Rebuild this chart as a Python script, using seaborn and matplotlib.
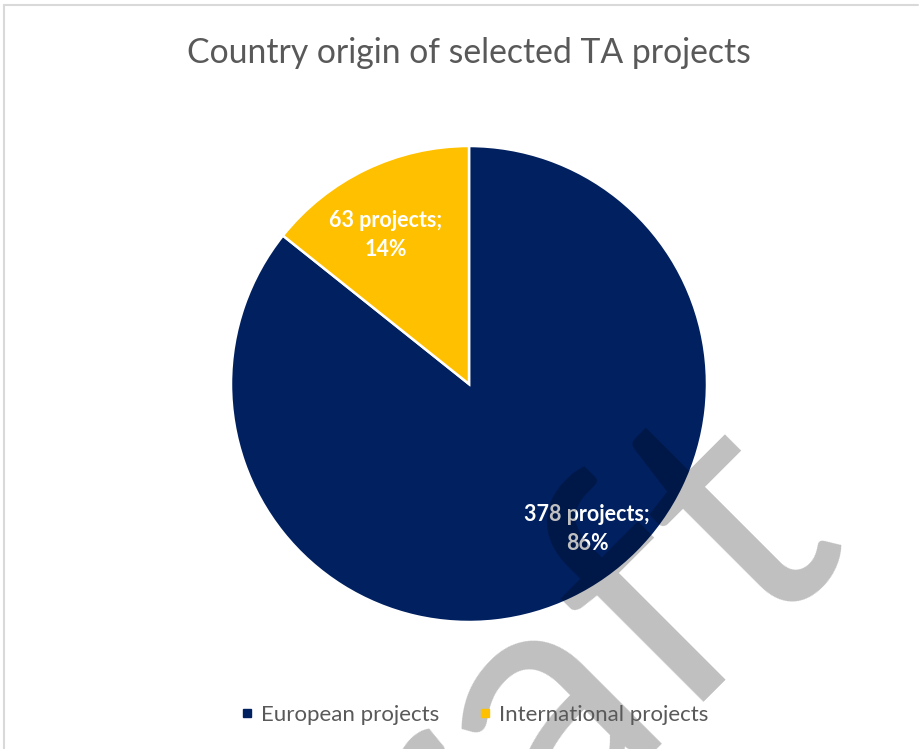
import matplotlib
matplotlib.use("Agg")
import matplotlib.pyplot as plt
from matplotlib.lines import Line2D
import seaborn as sns

# Data
categories = ["European projects", "International projects"]
project_counts = [378, 63]
colors = ["#002060", "#FFC000"]
title = "Country origin of selected TA projects"

sns.set_theme(style="white")
plt.rcParams["font.family"] = ["Lato", "DejaVu Sans"]

W, H = 919, 749
fig = plt.figure(figsize=(W / 100, H / 100), dpi=100)
fig.patch.set_facecolor("white")

# Chart frame (top and left edges)
frame_color = "#D9D9D9"
fig.add_artist(Line2D([4 / W, 918 / W], [1 - 5 / H, 1 - 5 / H], color=frame_color, lw=1.5,
                      transform=fig.transFigure))
fig.add_artist(Line2D([4 / W, 4 / W], [1 - 5 / H, 0], color=frame_color, lw=1.5,
                      transform=fig.transFigure))

# Pie axes
cx, cy, r = 469, 384, 238
ax = fig.add_axes([(cx - r) / W, (H - cy - r) / H, 2 * r / W, 2 * r / H])
wedges, _ = ax.pie(project_counts, colors=colors, startangle=90, counterclock=False,
                   radius=1.0, wedgeprops=dict(edgecolor="white", linewidth=1.8))
ax.set_xlim(-1, 1)
ax.set_ylim(-1, 1)
ax.set_aspect("equal")
ax.axis("off")

# Data labels
total = sum(project_counts)
label_pos = [(0.496, -0.609), (-0.349, 0.626)]
for n, (lx, ly) in zip(project_counts, label_pos):
    ax.text(lx, ly, f"{n} projects;\n{round(100 * n / total)}%", ha="center", va="center",
            color="white", fontsize=15.5, fontweight="bold", linespacing=1.5)

# Title
fig.text(469 / W, 1 - 63 / H, title, ha="center", va="baseline", color="#595959",
         fontsize=24.3)

# Legend
handles = [Line2D([], [], marker="s", linestyle="none", markersize=5.8,
                  markerfacecolor=c, markeredgecolor=c) for c in colors]
fig.legend(handles, categories, loc="center", bbox_to_anchor=(474.5 / W, 1 - 715 / H),
           ncol=2, frameon=False, fontsize=16, handletextpad=0.35, columnspacing=1.75,
           labelcolor="#595959", handlelength=0.6, borderpad=0, borderaxespad=0)

# Watermark
fig.text(486 / W, 1 - 748 / H, "Draft", ha="center", va="center", rotation=45,
         rotation_mode="anchor", fontsize=252, color="black", alpha=0.25)

fig.savefig("out.png", dpi=100, facecolor="white")
